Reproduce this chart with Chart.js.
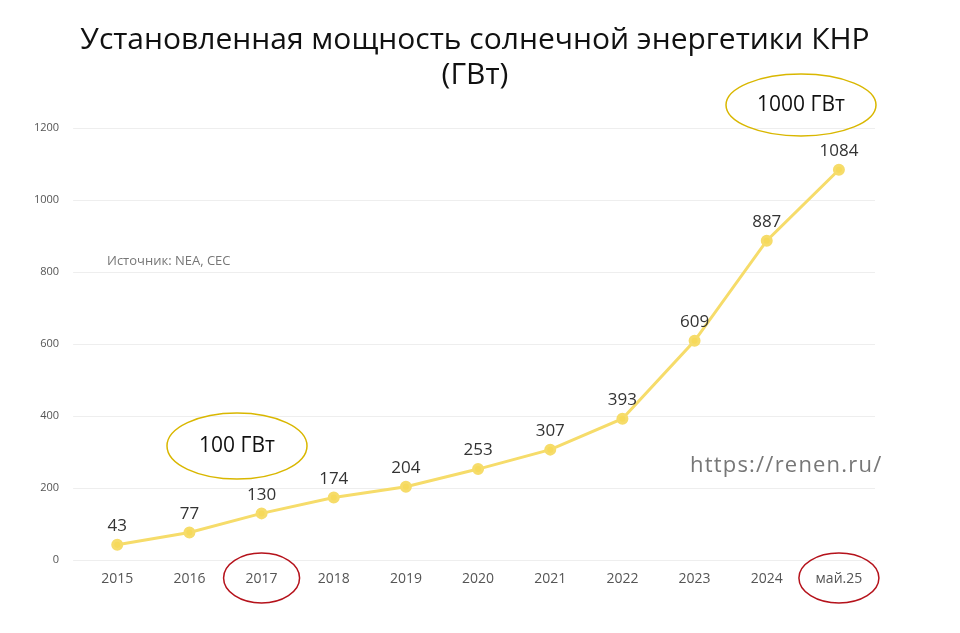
<!DOCTYPE html>
<html><head><meta charset="utf-8">
<script src="https://cdn.jsdelivr.net/npm/chart.js@4"></script>
<style>body{margin:0;background:#fff}#w{width:960px;height:633px;position:relative}</style>
</head><body><div id="w"><canvas id="c"></canvas></div>
<script>
const categories=["2015","2016","2017","2018","2019","2020","2021","2022","2023","2024","май.25"];
const capacity=[43,77,130,174,204,253,307,393,609,887,1084];
const yTicks=[0,200,400,600,800,1000,1200];
const FONT="'Open Sans', 'Noto Sans', sans-serif";
const deco={id:'deco',afterDraw(ch){
  const c=ch.ctx,x=ch.scales.x,y=ch.scales.y;
  c.save();
  c.font="30px "+FONT;c.fillStyle="#111";c.textAlign="center";c.textBaseline="middle";
  c.fillText("Установленная мощность солнечной энергетики КНР",475,40);
  c.fillText("(ГВт)",475,75);
  c.font="17px "+FONT;c.fillStyle="#333";c.textBaseline="bottom";
  capacity.forEach((v,i)=>c.fillText(String(v),x.getPixelForValue(i),y.getPixelForValue(v)-10));
  c.textAlign="left";c.textBaseline="middle";
  c.font="13px "+FONT;c.fillStyle="#777";c.fillText("Источник: NEA, CEC",107,261);
  c.font="22px "+FONT;c.fillStyle="#777";
  if(c.letterSpacing!==undefined)c.letterSpacing="1.2px";
  c.fillText("https://renen.ru/",690,466);
  if(c.letterSpacing!==undefined)c.letterSpacing="0px";
  function ell(cx,cy,rx,ry,col,w){c.beginPath();c.ellipse(cx,cy,rx,ry,0,0,Math.PI*2);c.strokeStyle=col;c.lineWidth=w;c.stroke();}
  ell(x.getPixelForValue(2),578,38,25,"#b5121b",1.5);
  ell(x.getPixelForValue(10),578,40,25,"#b5121b",1.5);
  ell(801,105,75,31,"#d9b700",1.5);
  ell(237,446,70,33,"#d9b700",1.5);
  c.textAlign="center";c.font="21px "+FONT;c.fillStyle="#111";
  c.fillText("1000 ГВт",801,105);c.fillText("100 ГВт",237,446);
  c.restore();
}};
new Chart(document.getElementById('c'),{type:'line',
 data:{labels:categories,datasets:[{data:capacity,borderColor:"#f6dc6a",backgroundColor:"#f6d95a",borderWidth:3,pointRadius:4.5,pointHoverRadius:4.5,tension:0}]},
 options:{responsive:true,maintainAspectRatio:false,animation:false,
  layout:{padding:{top:128,left:20,right:85,bottom:44}},
  plugins:{legend:{display:false},tooltip:{enabled:false}},
  scales:{
   x:{offset:true,grid:{display:false},border:{display:false},ticks:{color:"#555",font:{size:14,family:FONT},padding:2}},
   y:{min:0,max:1200,grid:{color:"#eeeeee"},border:{display:false},
      afterBuildTicks(s){s.ticks=yTicks.map(v=>({value:v}));},
      ticks:{color:"#555",font:{size:11,family:FONT},padding:14,callback:v=>String(v)}}
  }},
 plugins:[deco]});
</script></body></html>
